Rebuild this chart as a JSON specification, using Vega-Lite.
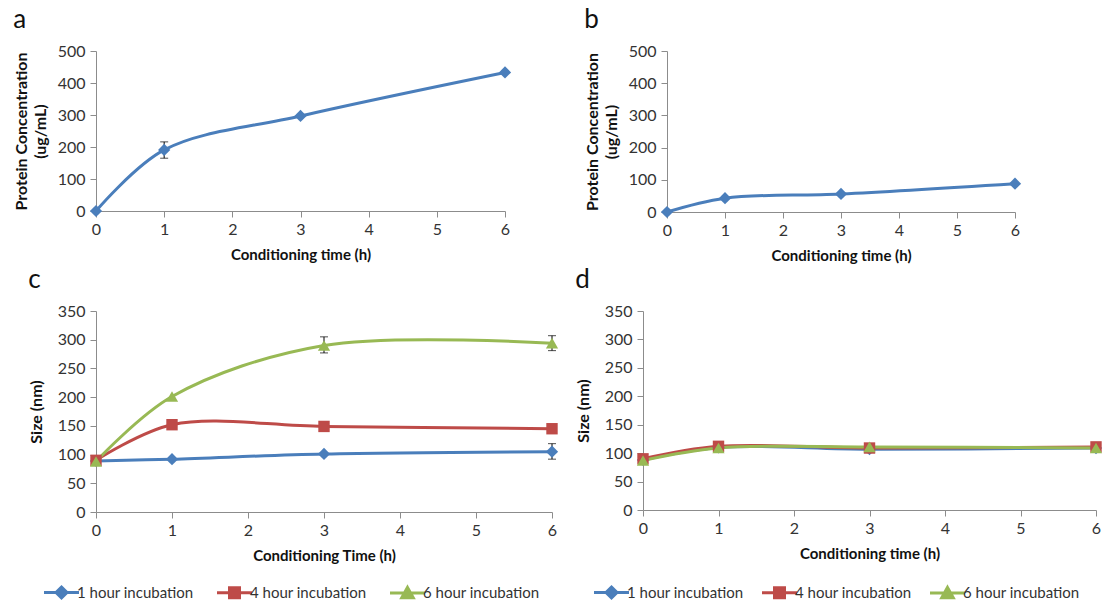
{
  "$schema": "https://vega.github.io/schema/vega-lite/v6.json",
  "background": "white",
  "padding": {"left": 13, "top": 7, "right": 4, "bottom": 0},
  "config": {
    "view": {"stroke": null},
    "font": "Lato",
    "axis": {
      "grid": false,
      "domainColor": "#8c8c8c",
      "domainWidth": 1,
      "tickColor": "#8c8c8c",
      "tickSize": 6,
      "labelFont": "Lato",
      "labelFontSize": 16,
      "labelColor": "#333333",
      "labelPadding": 5,
      "labelOverlap": false,
      "labelFlush": false,
      "titleFont": "Lato",
      "titleFontWeight": "bold",
      "titleColor": "#111111"
    },
    "axisX": {"labelPadding": 4, "titlePadding": 10, "titleFontSize": 15},
    "axisY": {"titlePadding": 9, "titleFontSize": 16, "titleLineHeight": 19},
    "title": {"fontSize": 26, "fontWeight": "normal", "anchor": "start", "frame": "bounds", "font": "Lato", "color": "#111111", "offset": 10},
    "legend": {"labelFont": "Lato", "labelFontSize": 15, "labelColor": "#333333"}
  },
  "datasets": {
    "prot": [
      {"panel": "a", "t": 0, "v": 0},
      {"panel": "a", "t": 1, "v": 191, "lo": 165, "hi": 216},
      {"panel": "a", "t": 3, "v": 297},
      {"panel": "a", "t": 6, "v": 433},
      {"panel": "b", "t": 0, "v": 0},
      {"panel": "b", "t": 1, "v": 43},
      {"panel": "b", "t": 3, "v": 56},
      {"panel": "b", "t": 6, "v": 88}
    ],
    "size": [
      {"panel": "c", "series": "1 hour incubation", "t": 0, "v": 89},
      {"panel": "c", "series": "1 hour incubation", "t": 1, "v": 92},
      {"panel": "c", "series": "1 hour incubation", "t": 3, "v": 101},
      {"panel": "c", "series": "1 hour incubation", "t": 6, "v": 105, "lo": 92, "hi": 119},
      {"panel": "c", "series": "4 hour incubation", "t": 0, "v": 90},
      {"panel": "c", "series": "4 hour incubation", "t": 1, "v": 152},
      {"panel": "c", "series": "4 hour incubation", "t": 3, "v": 149},
      {"panel": "c", "series": "4 hour incubation", "t": 6, "v": 145},
      {"panel": "c", "series": "6 hour incubation", "t": 0, "v": 88},
      {"panel": "c", "series": "6 hour incubation", "t": 1, "v": 201},
      {"panel": "c", "series": "6 hour incubation", "t": 3, "v": 290, "lo": 277, "hi": 305},
      {"panel": "c", "series": "6 hour incubation", "t": 6, "v": 294, "lo": 281, "hi": 307},
      {"panel": "d", "series": "1 hour incubation", "t": 0, "v": 88},
      {"panel": "d", "series": "1 hour incubation", "t": 1, "v": 110},
      {"panel": "d", "series": "1 hour incubation", "t": 3, "v": 107},
      {"panel": "d", "series": "1 hour incubation", "t": 6, "v": 109},
      {"panel": "d", "series": "4 hour incubation", "t": 0, "v": 90},
      {"panel": "d", "series": "4 hour incubation", "t": 1, "v": 112},
      {"panel": "d", "series": "4 hour incubation", "t": 3, "v": 109},
      {"panel": "d", "series": "4 hour incubation", "t": 6, "v": 111},
      {"panel": "d", "series": "6 hour incubation", "t": 0, "v": 87},
      {"panel": "d", "series": "6 hour incubation", "t": 1, "v": 109},
      {"panel": "d", "series": "6 hour incubation", "t": 3, "v": 111},
      {"panel": "d", "series": "6 hour incubation", "t": 6, "v": 109}
    ]
  },
  "spacing": 4,
  "columns": 1,
  "align": "none",
  "concat": [
    {
      "spacing": 72,
      "hconcat": [
        {
          "title": {"text": "a"},
          "width": 409, "height": 160,
          "data": {"name": "prot"},
          "transform": [{"filter": "datum.panel === 'a'"}],
          "encoding": {
            "x": {"field": "t", "type": "quantitative", "title": "Conditioning time (h)", "scale": {"domain": [0, 6], "nice": false}, "axis": {"values": [0, 1, 2, 3, 4, 5, 6]}}
          },
          "layer": [
            {"mark": {"type": "line", "interpolate": "catmull-rom", "strokeWidth": 3, "color": "#4A7EBB"},
             "encoding": {"y": {"field": "v", "type": "quantitative", "title": ["Protein Concentration", "(ug/mL)"], "scale": {"domain": [0, 500], "nice": false}, "axis": {"values": [0, 100, 200, 300, 400, 500]}}}},
            {"transform": [{"filter": "isValid(datum.lo)"}], "mark": {"type": "rule", "color": "black", "strokeWidth": 1},
             "encoding": {"y": {"field": "lo", "type": "quantitative", "title": ["Protein Concentration", "(ug/mL)"], "axis": {"values": [0, 100, 200, 300, 400, 500]}}, "y2": {"field": "hi"}}},
            {"transform": [{"filter": "isValid(datum.lo)"}], "mark": {"type": "tick", "orient": "horizontal", "color": "black", "size": 8, "thickness": 1},
             "encoding": {"y": {"field": "lo", "type": "quantitative", "title": ["Protein Concentration", "(ug/mL)"], "axis": {"values": [0, 100, 200, 300, 400, 500]}}}},
            {"transform": [{"filter": "isValid(datum.lo)"}], "mark": {"type": "tick", "orient": "horizontal", "color": "black", "size": 8, "thickness": 1},
             "encoding": {"y": {"field": "hi", "type": "quantitative", "title": ["Protein Concentration", "(ug/mL)"], "axis": {"values": [0, 100, 200, 300, 400, 500]}}}},
            {"mark": {"type": "point", "shape": "diamond", "filled": true, "size": 150, "color": "#4A7EBB", "opacity": 1},
             "encoding": {"y": {"field": "v", "type": "quantitative", "title": ["Protein Concentration", "(ug/mL)"], "axis": {"values": [0, 100, 200, 300, 400, 500]}}}}
          ]
        },
        {
          "title": {"text": "b"},
          "width": 348, "height": 161,
          "data": {"name": "prot"},
          "transform": [{"filter": "datum.panel === 'b'"}],
          "encoding": {
            "x": {"field": "t", "type": "quantitative", "title": "Conditioning time (h)", "scale": {"domain": [0, 6], "nice": false}, "axis": {"values": [0, 1, 2, 3, 4, 5, 6]}},
            "y": {"field": "v", "type": "quantitative", "title": ["Protein Concentration", "(ug/mL)"], "scale": {"domain": [0, 500], "nice": false}, "axis": {"values": [0, 100, 200, 300, 400, 500]}}
          },
          "layer": [
            {"mark": {"type": "line", "interpolate": "catmull-rom", "strokeWidth": 3, "color": "#4A7EBB"}},
            {"mark": {"type": "point", "shape": "diamond", "filled": true, "size": 150, "color": "#4A7EBB", "opacity": 1}}
          ]
        }
      ]
    },
    {
      "spacing": 16,
      "resolve": {"scale": {"color": "independent"}, "legend": {"color": "independent"}},
      "hconcat": [
        {
          "title": {"text": "c"},
          "width": 456, "height": 201,
          "data": {"name": "size"},
          "transform": [{"filter": "datum.panel === 'c'"}],
          "encoding": {
            "x": {"field": "t", "type": "quantitative", "title": "Conditioning Time (h)", "scale": {"domain": [0, 6], "nice": false}, "axis": {"values": [0, 1, 2, 3, 4, 5, 6]}},
            "y": {"field": "v", "type": "quantitative", "title": "Size (nm)", "scale": {"domain": [0, 350], "nice": false}, "axis": {"values": [0, 50, 100, 150, 200, 250, 300, 350], "titlePadding": 13}}
          },
          "layer": [
            {"mark": {"type": "line", "interpolate": "catmull-rom", "strokeWidth": 3},
             "encoding": {
               "color": {"field": "series", "type": "nominal", "scale": {"domain": ["1 hour incubation", "4 hour incubation", "6 hour incubation"], "range": ["#4A7EBB", "#BE4B48", "#98B954"]},
                 "legend": {"orient": "none", "legendX": -42, "legendY": 274, "direction": "horizontal", "title": null, "labelOffset": 8, "columnPadding": 17,
                   "encode": {"symbols": {"update": {
                     "shape": {"signal": "datum.value === '1 hour incubation' ? 'M-3.5,0H3.5M0,-1.1L1.1,0L0,1.1L-1.1,0Z' : datum.value === '4 hour incubation' ? 'M-3.5,0H3.5M-1,-1H1V1H-1Z' : 'M-3.5,0H3.5M0,-1.1L1.15,0.95H-1.15Z'"},
                     "fill": {"signal": "datum.value === '1 hour incubation' ? '#4A7EBB' : datum.value === '4 hour incubation' ? '#BE4B48' : '#98B954'"},
                     "stroke": {"signal": "datum.value === '1 hour incubation' ? '#4A7EBB' : datum.value === '4 hour incubation' ? '#BE4B48' : '#98B954'"},
                     "strokeWidth": {"value": 3},
                     "opacity": {"value": 1},
                     "size": {"value": 100}}}}}}
             }},
            {"transform": [{"filter": "isValid(datum.lo)"}], "mark": {"type": "rule", "color": "black", "strokeWidth": 1},
             "encoding": {"y": {"field": "lo", "type": "quantitative", "title": "Size (nm)", "axis": {"values": [0, 50, 100, 150, 200, 250, 300, 350], "titlePadding": 13}}, "y2": {"field": "hi"}}},
            {"transform": [{"filter": "isValid(datum.lo)"}], "mark": {"type": "tick", "orient": "horizontal", "color": "black", "size": 8, "thickness": 1},
             "encoding": {"y": {"field": "lo", "type": "quantitative", "title": "Size (nm)", "axis": {"values": [0, 50, 100, 150, 200, 250, 300, 350], "titlePadding": 13}}}},
            {"transform": [{"filter": "isValid(datum.lo)"}], "mark": {"type": "tick", "orient": "horizontal", "color": "black", "size": 8, "thickness": 1},
             "encoding": {"y": {"field": "hi", "type": "quantitative", "title": "Size (nm)", "axis": {"values": [0, 50, 100, 150, 200, 250, 300, 350], "titlePadding": 13}}}},
            {"transform": [{"filter": "datum.series === '1 hour incubation'"}], "mark": {"type": "point", "shape": "diamond", "filled": true, "size": 150, "opacity": 1, "color": "#4A7EBB"}},
            {"transform": [{"filter": "datum.series === '4 hour incubation'"}], "mark": {"type": "point", "shape": "square", "filled": true, "size": 130, "opacity": 1, "color": "#BE4B48"}},
            {"transform": [{"filter": "datum.series === '6 hour incubation'"}], "mark": {"type": "point", "shape": "triangle-up", "filled": true, "size": 150, "opacity": 1, "color": "#98B954"}}
          ]
        },
        {
          "title": {"text": "d"},
          "width": 453, "height": 199,
          "data": {"name": "size"},
          "transform": [{"filter": "datum.panel === 'd'"}],
          "encoding": {
            "x": {"field": "t", "type": "quantitative", "title": "Conditioning time (h)", "scale": {"domain": [0, 6], "nice": false}, "axis": {"values": [0, 1, 2, 3, 4, 5, 6]}},
            "y": {"field": "v", "type": "quantitative", "title": "Size (nm)", "scale": {"domain": [0, 350], "nice": false}, "axis": {"values": [0, 50, 100, 150, 200, 250, 300, 350], "titlePadding": 13}}
          },
          "layer": [
            {"mark": {"type": "line", "interpolate": "catmull-rom", "strokeWidth": 3},
             "encoding": {
               "color": {"field": "series", "type": "nominal", "scale": {"domain": ["1 hour incubation", "4 hour incubation", "6 hour incubation"], "range": ["#4A7EBB", "#BE4B48", "#98B954"]},
                 "legend": {"orient": "none", "legendX": -39, "legendY": 274, "direction": "horizontal", "title": null, "labelOffset": 8, "columnPadding": 12,
                   "encode": {"symbols": {"update": {
                     "shape": {"signal": "datum.value === '1 hour incubation' ? 'M-3.5,0H3.5M0,-1.1L1.1,0L0,1.1L-1.1,0Z' : datum.value === '4 hour incubation' ? 'M-3.5,0H3.5M-1,-1H1V1H-1Z' : 'M-3.5,0H3.5M0,-1.1L1.15,0.95H-1.15Z'"},
                     "fill": {"signal": "datum.value === '1 hour incubation' ? '#4A7EBB' : datum.value === '4 hour incubation' ? '#BE4B48' : '#98B954'"},
                     "stroke": {"signal": "datum.value === '1 hour incubation' ? '#4A7EBB' : datum.value === '4 hour incubation' ? '#BE4B48' : '#98B954'"},
                     "strokeWidth": {"value": 3},
                     "opacity": {"value": 1},
                     "size": {"value": 100}}}}}}
             }},
            {"transform": [{"filter": "datum.series === '1 hour incubation'"}], "mark": {"type": "point", "shape": "diamond", "filled": true, "size": 150, "opacity": 1, "color": "#4A7EBB"}},
            {"transform": [{"filter": "datum.series === '4 hour incubation'"}], "mark": {"type": "point", "shape": "square", "filled": true, "size": 130, "opacity": 1, "color": "#BE4B48"}},
            {"transform": [{"filter": "datum.series === '6 hour incubation'"}], "mark": {"type": "point", "shape": "triangle-up", "filled": true, "size": 150, "opacity": 1, "color": "#98B954"}}
          ]
        }
      ]
    }
  ]
}
